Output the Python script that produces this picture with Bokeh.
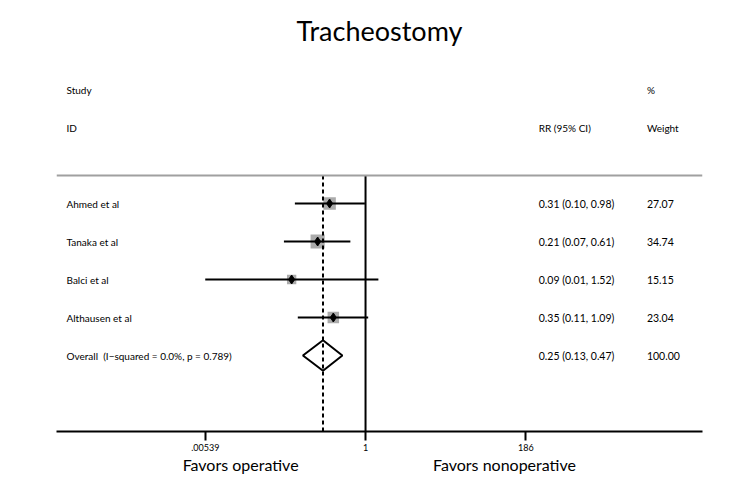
import math
from bokeh.plotting import figure
from bokeh.models import (ColumnDataSource, FixedTicker, LogAxis, Range1d, Span,
                          CustomJSTickFormatter)
from bokeh.core.properties import value
from bokeh.embed import file_html
from bokeh.resources import INLINE

# ---------------- data ----------------
chart_title = "Tracheostomy"
studies = ["Ahmed et al", "Tanaka et al", "Balci et al", "Althausen et al"]
rr = [0.31, 0.21, 0.09, 0.35]
ci_lo = [0.10, 0.07, 0.00539, 0.11]
ci_hi = [0.98, 0.61, 1.52, 1.09]
weights = [27.07, 34.74, 15.15, 23.04]
rr_labels = ["0.31 (0.10, 0.98)", "0.21 (0.07, 0.61)", "0.09 (0.01, 1.52)", "0.35 (0.11, 1.09)"]
weight_labels = ["27.07", "34.74", "15.15", "23.04"]

overall_label = "Overall \u00a0(I\u2212squared = 0.0%, p = 0.789)"
overall_rr = 0.25
overall_lo = 0.13
overall_hi = 0.47
overall_rr_label = "0.25 (0.13, 0.47)"
overall_weight_label = "100.00"

tick_values = [0.00539, 1, 186]
tick_labels = [".00539", "1", "186"]
favours_labels = ["Favors operative", "Favors nonoperative"]

# ---------------- layout ----------------
FONT = "Lato"
W, H = 742, 488
ROW_PX = 38.0
B_TOP, B_BOTTOM, B_LEFT, B_RIGHT = 48, 57, 56, 40
frame_h = H - B_TOP - B_BOTTOM
frame_w = W - B_LEFT - B_RIGHT
ln_left, ln_right = -10.07, 10.98


def x_at(frac):
    """data x at a fraction of the axis width (log scale)"""
    return math.exp(ln_left + frac * (ln_right - ln_left))


y_bottom = -1.0
y_top = y_bottom + frame_h / ROW_PX

n = len(studies)
row_y = [n + 1 - i for i in range(n)]   # 5,4,3,2
overall_y = 1
header1_y = n + 4                       # Study / %
header2_y = n + 3                       # ID / RR / Weight
rule_y = n + 1.74

col_study = x_at(0.0155)
col_rr = x_at(0.7465)
col_wt = x_at(0.914)

p = figure(width=W, height=H, x_axis_type="log",
           x_range=Range1d(math.exp(ln_left), math.exp(ln_right)),
           y_range=Range1d(y_bottom, y_top),
           output_backend="svg", toolbar_location=None,
           min_border_top=B_TOP, min_border_bottom=B_BOTTOM,
           min_border_left=B_LEFT, min_border_right=B_RIGHT)
p.background_fill_color = "white"
p.border_fill_color = "white"
p.outline_line_color = None
p.xgrid.visible = False
p.ygrid.visible = False
p.yaxis.visible = False

p.title.text = chart_title
p.title.align = "center"
p.title.text_font = FONT
p.title.text_font_size = "27px"
p.title.text_font_style = "normal"
p.title.text_color = "black"
p.title.standoff = 4

# main x axis
fmt_code = """
let best = 0; let bd = 1e9;
for (let i = 0; i < vals.length; i++) {
  const d = Math.abs(Math.log(tick) - Math.log(vals[i]));
  if (d < bd) { bd = d; best = i; }
}
return labs[best];
"""
ax = p.xaxis[0]
ax.ticker = FixedTicker(ticks=tick_values)
ax.formatter = CustomJSTickFormatter(args=dict(vals=tick_values, labs=tick_labels), code=fmt_code)
ax.axis_line_width = 2
ax.axis_line_color = "black"
ax.major_tick_line_width = 2
ax.major_tick_line_color = "black"
ax.major_tick_in = 0
ax.major_tick_out = 9
ax.minor_tick_line_color = None
ax.major_label_text_font = FONT
ax.major_label_text_font_size = "9px"
ax.major_label_text_color = "black"
ax.major_label_standoff = 3

# favours labels axis
fav_pos = [x_at(0.285), x_at(0.6935)]
ax2 = LogAxis(ticker=FixedTicker(ticks=fav_pos),
              formatter=CustomJSTickFormatter(args=dict(vals=fav_pos, labs=favours_labels), code=fmt_code))
ax2.axis_line_color = None
ax2.major_tick_line_color = None
ax2.minor_tick_line_color = None
ax2.major_label_text_font = FONT
ax2.major_label_text_font_size = "16px"
ax2.major_label_text_color = "black"
ax2.major_label_standoff = -5
p.add_layout(ax2, "below")

# horizontal gray rule below header
p.add_layout(Span(location=rule_y, dimension="width", line_color="#a0a0a0", line_width=2))

# line of no effect
p.segment(x0=[1], x1=[1], y0=[y_bottom], y1=[rule_y], line_color="black", line_width=2)

# study rows
src = ColumnDataSource(dict(y=row_y, rr=rr, lo=ci_lo, hi=ci_hi,
                            size=[2.4 * math.sqrt(w) for w in weights]))
p.scatter(x="rr", y="y", size="size", marker="square", source=src,
          fill_color="#ababab", line_color=None)
p.segment(x0="lo", x1="hi", y0="y", y1="y", source=src, line_color="black", line_width=2)
p.scatter(x="rr", y="y", size=9, marker="diamond", source=src,
          fill_color="black", line_color="black")

# overall diamond
half = 0.4
p.patch(x=[overall_lo, overall_rr, overall_hi, overall_rr],
        y=[overall_y, overall_y + half, overall_y, overall_y - half],
        fill_color="white", line_color="black", line_width=2)

# overall effect dashed line
p.segment(x0=[overall_rr], x1=[overall_rr], y0=[y_bottom], y1=[rule_y],
          line_color="black", line_width=2, line_dash="4 3")

# texts
tstyle = dict(text_font=value(FONT), text_font_size="10px", text_color="black",
              text_align="left", text_baseline="middle")
num_style = dict(tstyle, text_font_size="10.5px")
p.text(x=[col_study] * (n + 1), y=row_y + [overall_y], text=studies + [overall_label], **tstyle)
p.text(x=[col_rr] * (n + 1), y=row_y + [overall_y], text=rr_labels + [overall_rr_label], **num_style)
p.text(x=[col_wt] * (n + 1), y=row_y + [overall_y], text=weight_labels + [overall_weight_label], **num_style)

p.text(x=[col_study, col_wt], y=[header1_y, header1_y], text=["Study", "%"], **tstyle)
p.text(x=[col_study, col_rr, col_wt], y=[header2_y] * 3, text=["ID", "RR (95% CI)", "Weight"], **tstyle)

open("out.html", "w").write(file_html(p, INLINE))
